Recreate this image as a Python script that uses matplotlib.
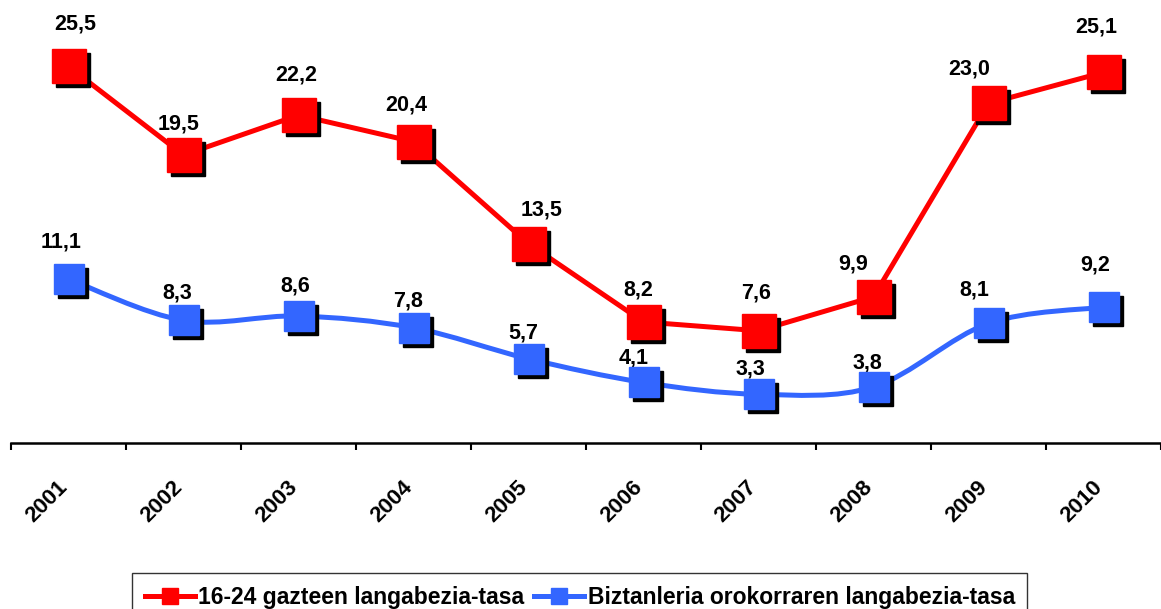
import matplotlib.pyplot as plt
import matplotlib.transforms as mtransforms
from matplotlib.path import Path
from matplotlib.patches import PathPatch
from matplotlib.lines import Line2D
import numpy as np

plt.rcParams['font.family'] = ['Liberation Sans', 'DejaVu Sans']

years = ['2001', '2002', '2003', '2004', '2005', '2006', '2007', '2008', '2009', '2010']
gazteak = [25.5, 19.5, 22.2, 20.4, 13.5, 8.2, 7.6, 9.9, 23.0, 25.1]
orokorra = [11.1, 8.3, 8.6, 7.8, 5.7, 4.1, 3.3, 3.8, 8.1, 9.2]

# label offsets (pixels) as placed in the original chart
red_dx = [7, -5, -2, -7, 13, -5, -2, -20, -19, -7]
red_dy = [42, 31, 40, 37, 34, 32, 38, 33, 34, 45]
blue_dx = [-7, -6, -3, -5, -5, -10, -8, -6, -14, -8]
blue_dy = [37, 27, 30, 27, 26, 24, 25, 24, 33, 42]

red = '#ff0000'
blue = '#3366ff'

fig = plt.figure(figsize=(11.61, 6.09), dpi=100)
ax = fig.add_axes([0.0095, 0.2726, 0.9905, 0.7274])

x = np.arange(len(years))


def smooth_path(xs, ys):
    # bezier curve through the points, like the office "smoothed line"
    verts = [(xs[0], ys[0])]
    codes = [Path.MOVETO]
    n = len(xs)
    for i in range(n - 1):
        p0 = (xs[max(i - 1, 0)], ys[max(i - 1, 0)])
        p1 = (xs[i], ys[i])
        p2 = (xs[i + 1], ys[i + 1])
        p3 = (xs[min(i + 2, n - 1)], ys[min(i + 2, n - 1)])
        c1 = (p1[0] + (p2[0] - p0[0]) / 6, p1[1] + (p2[1] - p0[1]) / 6)
        c2 = (p2[0] - (p3[0] - p1[0]) / 6, p2[1] - (p3[1] - p1[1]) / 6)
        verts += [c1, c2, p2]
        codes += [Path.CURVE4] * 3
    return Path(verts, codes)


shadow = mtransforms.offset_copy(ax.transData, fig=fig, x=4, y=-4, units='dots')

# red line (straight)
ax.plot(x, gazteak, color=red, lw=3.6, zorder=2)
ax.plot(x, gazteak, ls='none', marker='s', ms=25, color='black', transform=shadow, zorder=3)
ax.plot(x, gazteak, ls='none', marker='s', ms=25, color=red, mec=red, zorder=4)

# blue line (smoothed)
ax.add_patch(PathPatch(smooth_path(x, orokorra), fill=False, edgecolor=blue, lw=3.6, zorder=2))
ax.plot(x, orokorra, ls='none', marker='s', ms=21.5, color='black', transform=shadow, zorder=3)
ax.plot(x, orokorra, ls='none', marker='s', ms=21.5, color=blue, mec=blue, zorder=4)

for xi, v, dx, dy in zip(x, gazteak, red_dx, red_dy):
    ax.annotate(f'{v:.1f}'.replace('.', ','), (xi, v), xytext=(dx * 0.72, dy * 0.72),
                textcoords='offset points', ha='center', va='center', fontsize=15.5, fontweight='bold')
for xi, v, dx, dy in zip(x, orokorra, blue_dx, blue_dy):
    ax.annotate(f'{v:.1f}'.replace('.', ','), (xi, v), xytext=(dx * 0.72, dy * 0.72),
                textcoords='offset points', ha='center', va='center', fontsize=15.5, fontweight='bold')

ax.set_xlim(-0.5, 9.5)
ax.set_ylim(0, 30)
for s in ['top', 'left', 'right']:
    ax.spines[s].set_visible(False)
ax.spines['bottom'].set_linewidth(1.8)
ax.set_yticks([])
ax.set_xticks(np.arange(-0.5, 10, 1))
ax.set_xticklabels([])
ax.tick_params(axis='x', which='major', length=5, width=1.5, direction='out')
ax.set_xticks(x, minor=True)
ax.set_xticklabels(years, minor=True, rotation=45, ha='right', rotation_mode='anchor',
                   fontsize=16, fontweight='bold')
ax.tick_params(axis='x', which='minor', length=0, pad=24)
shift = mtransforms.ScaledTranslation(-12 / 100, 0, fig.dpi_scale_trans)
for lab in ax.get_xticklabels(minor=True):
    lab.set_transform(lab.get_transform() + shift)

handles = [Line2D([], [], color=red, lw=3.6, marker='s', ms=11),
           Line2D([], [], color=blue, lw=3.6, marker='s', ms=11)]
fig.legend(handles, ['16-24 gazteen langabezia-tasa', 'Biztanleria orokorraren langabezia-tasa'],
           loc='upper left', bbox_to_anchor=(132 / 1161, 36 / 609), ncol=2, frameon=True,
           fancybox=False, edgecolor='black', prop={'size': 16.5, 'weight': 'bold'},
           handlelength=2.2, handletextpad=0.15, columnspacing=0.4, borderpad=0.55, borderaxespad=0)

fig.savefig('out.png', dpi=100)
